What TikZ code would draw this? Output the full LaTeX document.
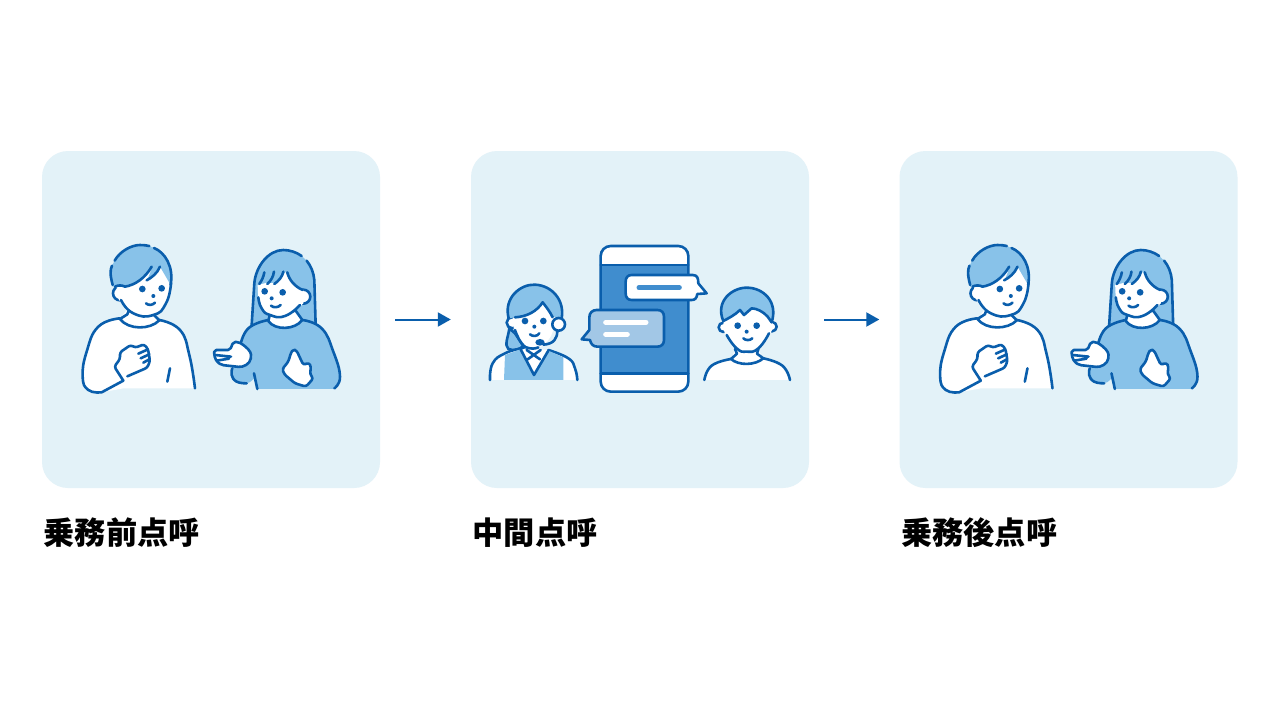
\documentclass[tikz,border=0pt]{standalone}
\usepackage{fontspec}
\usepackage{tikz}
\usetikzlibrary{arrows.meta}
\newfontfamily\jpfont{Noto Sans CJK JP}

\definecolor{panelbg}{HTML}{E3F2F8}
\definecolor{inkblue}{HTML}{0A5EAC}
\definecolor{hairblue}{HTML}{88C2E9}
\definecolor{phoneblue}{HTML}{408DCE}
\definecolor{bubbleblue}{HTML}{A2C7E6}

\tikzset{
  panelbox/.style={fill=panelbg,rounded corners=26pt,minimum width=338pt,minimum height=337pt,inner sep=0pt},
  steplabel/.style={anchor=west,inner sep=0pt,font=\jpfont\bfseries\fontsize{31.2}{34}\selectfont,text=black},
  flowarrow/.style={draw=inkblue,line width=2pt,shorten <=15pt,shorten >=20pt,-{Triangle[length=13pt,width=14pt]}},
  ink/.style={draw=inkblue,line width=2.6pt,line cap=round,line join=round},
  dot/.style={fill=inkblue},
  whitefill/.style={fill=white},
  hairfill/.style={fill=hairblue},
  pics/manfig/.style={code={
    \begin{scope}[shift={(70,235)},scale=.3333]
      \fill[whitefill] plot[smooth,tension=.8] coordinates {(150,250) (85,275) (50,350) (38,425) (55,465) (95,472)} -- (160,460) -- (375,460) -- plot[smooth,tension=.8] coordinates {(375,460) (358,360) (330,290) (270,255)} -- cycle;
      \draw[ink] plot[smooth,tension=.8] coordinates {(150,250) (85,275) (50,350) (38,425) (55,465) (95,472)} -- (160,437);
      \draw[ink] plot[smooth,tension=.8] coordinates {(268,255) (330,285) (358,360) (375,460)};
      \draw[ink] (300,400) -- (292,440);
      % neck and collar
      \fill[whitefill] (178,215) -- (150,252) .. controls (175,285) and (240,285) .. (268,256) -- (255,225) -- cycle;
      \draw[ink] (178,222) -- (172,238) -- (150,252) .. controls (175,285) and (240,285) .. (268,256) -- (252,240);
      % hand
      \filldraw[ink,whitefill,rounded corners=2.5pt] (160,437) -- (133,395) -- (150,372) -- (150,352) -- (182,330) -- (196,338) -- (222,328) -- (234,342) -- (240,378) -- (232,398) -- (172,424);
      \draw[ink] (205,356) -- (232,344) (212,370) -- (238,358) (220,383) -- (238,373);
      % head
      \filldraw[ink,whitefill] (150,175) circle (21);
      \fill[whitefill] plot[smooth,tension=.9] coordinates {(140,150) (150,200) (195,238) (250,240) (288,205) (305,140) (270,80) (170,100)} -- cycle;
      \draw[ink] plot[smooth,tension=.9] coordinates {(153,195) (190,235) (250,240) (288,205) (303,145)};
      \fill[hairfill] (128,155) .. controls (120,120) and (120,105) .. (126,92) -- (134,77) .. controls (150,48) and (185,30) .. (210,30) .. controls (220,30) and (230,31) .. (238,33) -- (252,39) .. controls (285,52) and (312,95) .. (302,150) -- (270,95) .. controls (262,115) and (245,130) .. (230,138) .. controls (238,120) and (245,105) .. (245,95) .. controls (225,130) and (195,150) .. (165,155) .. controls (155,150) and (140,150) .. (128,155);
      \draw[ink] (128,150) .. controls (120,120) and (120,105) .. (126,92);
      \draw[ink] (134,77) .. controls (150,48) and (185,30) .. (210,30) .. controls (220,30) and (230,31) .. (238,33);
      \draw[ink] (252,39) .. controls (285,52) and (312,95) .. (302,150);
      \draw[ink] (135,155) .. controls (145,150) and (155,150) .. (165,155) .. controls (195,150) and (225,130) .. (245,95);
      \draw[ink] (230,136) .. controls (245,128) and (262,115) .. (270,95);
      \fill[dot] (217,162) circle (10) (275,160) circle (10) (250,183) circle (6);
      \draw[ink] (228,205) .. controls (235,212) and (248,211) .. (255,203);
    \end{scope}}},
  pics/womanfig/.style={code={
    \begin{scope}[shift={(205,240)},scale=.3333]
      % long hair
      \fill[hairfill] (140,255) -- (148,130) .. controls (152,80) and (190,30) .. (235,30) .. controls (255,30) and (275,37) .. (290,48) -- (305,62) .. controls (318,78) and (326,98) .. (328,120) -- (332,255) -- cycle;
      \draw[ink] (140,255) -- (148,130) .. controls (152,80) and (190,30) .. (235,30) .. controls (255,30) and (275,37) .. (290,48);
      \draw[ink] (305,62) .. controls (318,78) and (326,98) .. (328,120) -- (332,255);
      % sweater
      \fill[hairfill] plot[smooth,tension=.8] coordinates {(190,240) (130,265) (105,320) (80,395) (90,425) (125,430) (147,415)} -- (155,447) -- (388,447) -- plot[smooth,tension=.8] coordinates {(388,447) (405,410) (385,335) (350,265) (292,240)} -- cycle;
      \draw[ink] plot[smooth,tension=.8] coordinates {(190,240) (130,265) (105,320)};
      \draw[ink] plot[smooth,tension=.8] coordinates {(82,385) (80,405) (95,425) (125,430)};
      \draw[ink] plot[smooth,tension=.8] coordinates {(388,445) (405,410) (385,335) (350,265) (292,240)};
      \draw[ink] (147,400) -- (157,447);
      % neck and collar
      \filldraw[ink,whitefill] (195,222) -- (190,243) .. controls (210,272) and (270,270) .. (292,240) -- (272,212) -- cycle;
      % face
      \filldraw[ink,whitefill] (295,170) circle (21);
      \fill[whitefill] (158,135) -- (187,128) -- (208,130) .. controls (222,122) and (232,110) .. (241,96) .. controls (252,120) and (270,140) .. (296,150) -- (295,190) .. controls (270,215) and (250,228) .. (225,230) .. controls (195,232) and (170,215) .. (160,185) -- cycle;
      \draw[ink] plot[smooth,tension=.9] coordinates {(160,172) (170,205) (195,225) (240,228) (285,195)};
      \draw[ink] (178,97) .. controls (176,110) and (170,122) .. (163,132);
      \draw[ink] (207,95) .. controls (205,110) and (198,122) .. (187,132);
      \draw[ink] (235,95) .. controls (232,110) and (222,122) .. (208,132);
      \draw[ink] (247,97) .. controls (252,120) and (270,140) .. (293,150);
      \fill[dot] (179,154) circle (10) (233,157) circle (10) (200,175) circle (6);
      \draw[ink] (198,197) .. controls (205,204) and (220,203) .. (227,195);
      % open hand
      \filldraw[ink,whitefill,rounded corners=2pt] (28,330) -- (75,330) -- (85,306) -- (100,306) .. controls (125,320) and (138,335) .. (138,350) .. controls (135,372) and (115,382) .. (95,380) -- (50,375) -- (35,365) -- (27,345) -- cycle;
      \draw[ink] (30,345) -- (78,350) (35,362) -- (72,356);
      % pointing hand
      \filldraw[ink,whitefill,rounded corners=2.5pt] (258,338) -- (265,328) -- (275,332) -- (295,375) -- (312,368) -- (318,380) -- (315,403) -- (325,415) -- (303,440) -- (270,430) -- (238,403) -- (232,387) -- (250,365) -- cycle;
    \end{scope}}},
}

\begin{document}
\begin{tikzpicture}[x=1pt,y=-1pt]
\useasboundingbox (0,0) rectangle (1280,720);
\fill[white] (0,0) rectangle (1280,720);

\node[panelbox] (panelA) at (211,319.5) {};
\node[panelbox] (panelB) at (640,319.5) {};
\node[panelbox] (panelC) at (1068.5,319.5) {};

\draw[flowarrow] (panelA) -- (panelB);
\draw[flowarrow] (panelB) -- (panelC);

\node[steplabel] (labelA) at (43.5,533) {乗務前点呼};
\node[steplabel] (labelB) at (472.5,533) {中間点呼};
\node[steplabel] (labelC) at (901,533) {乗務後点呼};

\pic {manfig};
\pic {womanfig};
\pic[shift={(857.5,0)}] {manfig};
\pic[shift={(857.5,0)}] {womanfig};

% operator
\begin{scope}[shift={(480,270)},scale=.3333]
  \filldraw[ink,hairfill] (88,175) .. controls (85,200) and (72,225) .. (85,237) .. controls (100,243) and (118,240) .. (130,228) -- (105,190) -- cycle;
  \fill[whitefill] plot[smooth,tension=.8] coordinates {(30,330) (38,280) (75,250) (125,235)} -- (205,240) -- plot[smooth,tension=.8] coordinates {(205,240) (265,265) (285,295) (292,330)} -- cycle;
  \draw[ink] plot[smooth,tension=.8] coordinates {(30,330) (38,280) (75,250) (125,235)};
  \draw[ink] plot[smooth,tension=.8] coordinates {(205,240) (265,265) (285,295) (292,330)};
  \fill[hairfill] (72,330) -- (75,255) -- (122,238) -- (162,315) -- (205,242) -- (250,262) -- (250,330) -- cycle;
  \draw[ink] (122,238) -- (162,315) -- (205,242);
  \draw[ink] (140,240) -- (180,268) (182,240) -- (143,268);
  \draw[ink] (125,235) -- (143,228);
  \filldraw[ink,whitefill] (97,158) circle (17);
  \fill[whitefill] plot[smooth,tension=.9] coordinates {(100,140) (108,195) (150,235) (195,220) (222,170) (218,125) (185,95) (130,125)} -- cycle;
  \draw[ink] plot[smooth,tension=.9] coordinates {(105,180) (125,220) (150,235) (175,232)};
  \fill[hairfill] (86,145) .. controls (70,85) and (120,42) .. (165,44) .. controls (215,46) and (255,90) .. (245,145) -- (218,140) .. controls (210,125) and (198,110) .. (188,97) .. controls (170,125) and (140,140) .. (105,142) -- cycle;
  \draw[ink] (86,145) .. controls (70,85) and (120,42) .. (165,44) .. controls (215,46) and (255,90) .. (245,145);
  \draw[ink] (105,142) .. controls (140,140) and (170,125) .. (188,97) .. controls (198,110) and (210,125) .. (218,142);
  \filldraw[ink,whitefill] (236,163) circle (19);
  \draw[ink] (232,182) .. controls (232,205) and (222,222) .. (190,224);
  \fill[dot] (180,217) ellipse (14 and 10);
  \fill[dot] (135,153) circle (10) (190,153) circle (10) (163,170) circle (6);
  \draw[ink] (150,193) .. controls (157,200) and (172,200) .. (178,190);
\end{scope}

% phone
\begin{scope}[shift={(580,240)},scale=.3333]
  \fill[whitefill,rounded corners=10pt] (62,18) rectangle (325,455);
  \fill[phoneblue] (62,75) rectangle (325,400);
  \draw[ink] (62,75) -- (325,75) (62,400) -- (325,400);
  \draw[ink,rounded corners=10pt] (62,18) rectangle (325,455);
  \filldraw[ink,fill=white] (155,105) -- (338,105) .. controls (352,105) and (355,115) .. (355,130) -- (380,160) -- (352,162) .. controls (350,175) and (345,180) .. (335,180) -- (155,180) .. controls (143,180) and (137,172) .. (137,160) -- (137,125) .. controls (137,113) and (143,105) .. (155,105) -- cycle;
  \draw[draw=phoneblue,line width=5pt,line cap=round] (177,143) -- (298,143);
  \filldraw[ink,fill=bubbleblue] (50,210) -- (232,210) .. controls (245,210) and (252,218) .. (252,230) -- (252,300) .. controls (252,312) and (245,320) .. (232,320) -- (52,320) .. controls (40,320) and (32,312) .. (30,300) -- (5,298) -- (28,270) -- (28,232) .. controls (28,218) and (38,210) .. (50,210) -- cycle;
  \draw[draw=white,line width=5pt,line cap=round] (77,247) -- (198,247) (77,283) -- (142,283);
\end{scope}

% boy
\begin{scope}[shift={(695,275)},scale=.3333]
  \fill[whitefill] plot[smooth,tension=.8] coordinates {(28,315) (50,272) (108,252)} -- (120,225) -- (190,225) -- (205,250) -- plot[smooth,tension=.8] coordinates {(205,250) (262,272) (285,315)} -- cycle;
  \draw[ink] plot[smooth,tension=.8] coordinates {(28,315) (50,272) (108,252)};
  \draw[ink] plot[smooth,tension=.8] coordinates {(205,250) (262,272) (285,315)};
  \draw[ink] (120,222) -- (126,236) -- (108,252) .. controls (130,272) and (180,272) .. (205,250) -- (186,236) -- (190,222);
  \filldraw[ink,whitefill] (85,157) circle (14) (231,155) circle (14);
  \fill[whitefill] plot[smooth,tension=.9] coordinates {(88,130) (95,185) (155,230) (215,190) (228,130) (170,85)} -- cycle;
  \draw[ink] plot[smooth,tension=.9] coordinates {(95,180) (125,220) (155,230) (190,220) (222,175)};
  \fill[hairfill] (85,138) .. controls (60,80) and (110,38) .. (155,38) .. controls (205,38) and (250,80) .. (230,142) -- (218,125) .. controls (205,110) and (185,100) .. (170,100) -- (147,120) -- (135,105) .. controls (120,120) and (100,130) .. (85,138);
  \draw[ink] (85,138) .. controls (60,80) and (110,38) .. (155,38) .. controls (205,38) and (250,80) .. (230,142);
  \draw[ink] (85,138) .. controls (100,130) and (120,120) .. (135,105) -- (147,120) -- (170,100) .. controls (185,100) and (205,110) .. (218,125) -- (230,142);
  \fill[dot] (128,152) circle (10) (185,152) circle (10) (155,170) circle (6);
  \draw[ink] (145,190) .. controls (152,197) and (165,197) .. (172,190);
\end{scope}

\end{tikzpicture}
\end{document}
